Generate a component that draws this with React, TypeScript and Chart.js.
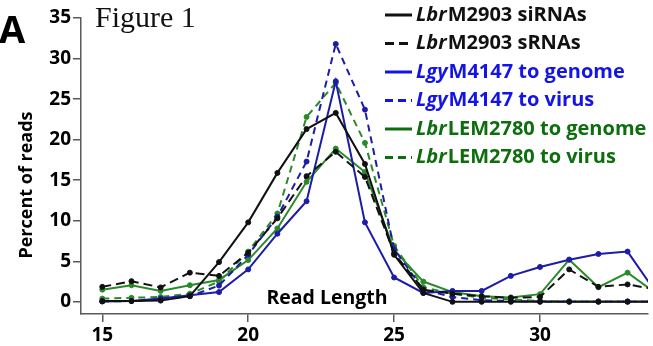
import React, { useEffect, useRef } from "react";
import { Chart, registerables } from "chart.js";

Chart.register(...registerables);

const readLengths = [15, 16, 17, 18, 19, 20, 21, 22, 23, 24, 25, 26, 27, 28, 29, 30, 31, 32, 33, 34];
const lbrM2903siRNAs = [0.1, 0.1, 0.15, 0.7, 4.9, 9.8, 15.9, 21.3, 23.3, 17.0, 5.8, 1.1, 0.0, 0.0, 0.0, 0.0, 0.0, 0.0, 0.0, 0.0];
const lbrM2903sRNAs = [1.85, 2.55, 1.78, 3.6, 3.2, 6.05, 10.3, 15.5, 18.5, 15.4, 6.0, 1.5, 1.0, 0.7, 0.5, 0.6, 4.0, 1.85, 2.15, 1.5];
const lgyGenome = [0.05, 0.1, 0.4, 0.8, 1.2, 4.0, 8.4, 12.4, 27.2, 9.8, 3.0, 1.1, 1.35, 1.35, 3.2, 4.3, 5.2, 5.9, 6.2, 1.0];
const lgyVirus = [0.05, 0.1, 0.3, 0.7, 2.0, 5.8, 10.5, 17.3, 31.8, 23.7, 6.5, 1.5, 0.6, 0.2, 0.1, 0.05, 0.05, 0.05, 0.05, 0.05];
const lemGenome = [1.5, 2.05, 1.35, 2.05, 2.7, 5.15, 9.05, 14.8, 18.9, 16.0, 6.4, 2.5, 1.2, 0.7, 0.55, 0.95, 5.2, 1.8, 3.6, 1.0];
const lemVirus = [0.4, 0.5, 0.6, 1.0, 2.5, 6.2, 10.9, 22.8, 27.0, 19.6, 6.9, 1.8, 1.0, 0.5, 0.3, 0.1, 0.05, 0.05, 0.05, 0.05];

const xTicks = [15, 20, 25, 30];
const yTicks = [0, 5, 10, 15, 20, 25, 30, 35];

const legendItems = [
  { italic: "Lbr", rest: "M2903 siRNAs", text: "#111111", line: "#111111", dash: [] as number[] },
  { italic: "Lbr", rest: "M2903 sRNAs", text: "#111111", line: "#111111", dash: [9, 5] },
  { italic: "Lgy", rest: "M4147 to genome", text: "#1414e6", line: "#1414e6", dash: [] as number[] },
  { italic: "Lgy", rest: "M4147 to virus", text: "#1414e6", line: "#1414e6", dash: [8, 5] },
  { italic: "Lbr", rest: "LEM2780 to genome", text: "#0c6e0c", line: "#0c6e0c", dash: [] as number[] },
  { italic: "Lbr", rest: "LEM2780 to virus", text: "#0c6e0c", line: "#0c6e0c", dash: [8, 5] },
];

const FONT = "'Open Sans', Lato, sans-serif";

const seriesDefs = [
  { label: "LbrM2903 siRNAs", values: lbrM2903siRNAs, color: "#111111", dash: [] as number[] },
  { label: "LbrM2903 sRNAs", values: lbrM2903sRNAs, color: "#111111", dash: [9, 5] },
  { label: "LgyM4147 to genome", values: lgyGenome, color: "#1c1ca6", dash: [] as number[] },
  { label: "LgyM4147 to virus", values: lgyVirus, color: "#1c1ca6", dash: [7, 5] },
  { label: "LbrLEM2780 to genome", values: lemGenome, color: "#2a8a2a", dash: [] as number[] },
  { label: "LbrLEM2780 to virus", values: lemVirus, color: "#2a8a2a", dash: [7, 5] },
];

const annotations = {
  id: "annotations",
  afterDraw(chart: any) {
    const ctx = chart.ctx as CanvasRenderingContext2D;
    ctx.save();
    // Panel letter
    ctx.fillStyle = "#000";
    ctx.font = `bold 38px ${FONT}`;
    ctx.textAlign = "left";
    ctx.textBaseline = "alphabetic";
    ctx.fillText("A", -1, 43);
    // Figure 1
    ctx.font = `30px 'Liberation Serif', 'DejaVu Serif', serif`;
    ctx.fillStyle = "#111";
    ctx.fillText("Figure 1", 95, 27);
    // Y axis title
    ctx.save();
    ctx.translate(27, 185);
    ctx.rotate(-Math.PI / 2);
    ctx.font = `bold 18px ${FONT}`;
    ctx.textAlign = "center";
    ctx.textBaseline = "middle";
    ctx.fillStyle = "#000";
    ctx.fillText("Percent of reads", 0, 0);
    ctx.restore();
    // Read Length label
    ctx.font = `bold 19.5px ${FONT}`;
    ctx.textAlign = "center";
    ctx.textBaseline = "middle";
    ctx.fillStyle = "#000";
    ctx.fillText("Read Length", 327, 298);
    // Legend
    const rowY = [15, 43.5, 72, 100.5, 129, 157.5];
    legendItems.forEach((item, i) => {
      const y = rowY[i];
      ctx.save();
      ctx.strokeStyle = item.line;
      ctx.lineWidth = 3;
      ctx.setLineDash(item.dash);
      ctx.beginPath();
      ctx.moveTo(385, y);
      ctx.lineTo(412, y);
      ctx.stroke();
      ctx.restore();
      ctx.textAlign = "left";
      ctx.textBaseline = "middle";
      ctx.fillStyle = item.text;
      ctx.font = `italic bold 20px ${FONT}`;
      ctx.fillText(item.italic, 416, y);
      const w = ctx.measureText(item.italic).width;
      ctx.font = `bold 20px ${FONT}`;
      ctx.fillText(item.rest, 416 + w + 1, y);
    });
    ctx.restore();
  },
};

export default function App() {
  const canvasRef = useRef<HTMLCanvasElement | null>(null);

  useEffect(() => {
    const canvas = canvasRef.current;
    if (!canvas) return;
    const chart = new Chart(canvas, {
      type: "line",
      data: {
        datasets: seriesDefs.map((s) => ({
          label: s.label,
          data: readLengths.map((x, i) => ({ x, y: s.values[i] })),
          borderColor: s.color,
          backgroundColor: s.color,
          borderWidth: 2,
          borderDash: s.dash,
          pointRadius: 2.5,
          pointBorderWidth: 1,
          pointBackgroundColor: s.color,
          pointBorderColor: s.color,
          tension: 0,
          fill: false,
        })),
      },
      options: {
        responsive: false,
        animation: false,
        layout: { padding: { top: 18, right: 0, bottom: 0, left: 0 } },
        plugins: {
          legend: { display: false },
          tooltip: { enabled: false },
          title: { display: false },
        },
        scales: {
          x: {
            type: "linear",
            min: 14.27,
            max: 33.7,
            afterFit(scale: any) {
              scale.height = 32;
            },
            afterBuildTicks(scale: any) {
              scale.ticks = xTicks.map((v) => ({ value: v }));
            },
            ticks: {
              color: "#000",
              font: { family: FONT, size: 19, weight: "bold" },
              padding: 2,
              autoSkip: false,
              maxRotation: 0,
            },
            grid: { display: true, drawOnChartArea: false, tickLength: 8, color: "#5a5a5a", lineWidth: 1.5 },
            border: { display: true, color: "#5a5a5a", width: 1.5 },
          },
          y: {
            type: "linear",
            min: -1.5,
            max: 35,
            afterFit(scale: any) {
              scale.width = 81;
            },
            afterBuildTicks(scale: any) {
              scale.ticks = yTicks.map((v) => ({ value: v }));
            },
            ticks: {
              color: "#000",
              font: { family: FONT, size: 19, weight: "bold" },
              padding: 2,
            },
            grid: { display: true, drawOnChartArea: false, tickLength: 8, color: "#5a5a5a", lineWidth: 1.5 },
            border: { display: true, color: "#5a5a5a", width: 1.5 },
          },
        },
      },
      plugins: [annotations],
    });
    return () => chart.destroy();
  }, []);

  return (
    <div style={{ position: "absolute", left: 0, top: 0, width: 653, height: 346, background: "#fff" }}>
      <canvas ref={canvasRef} width={653} height={346} style={{ display: "block" }} />
    </div>
  );
}
